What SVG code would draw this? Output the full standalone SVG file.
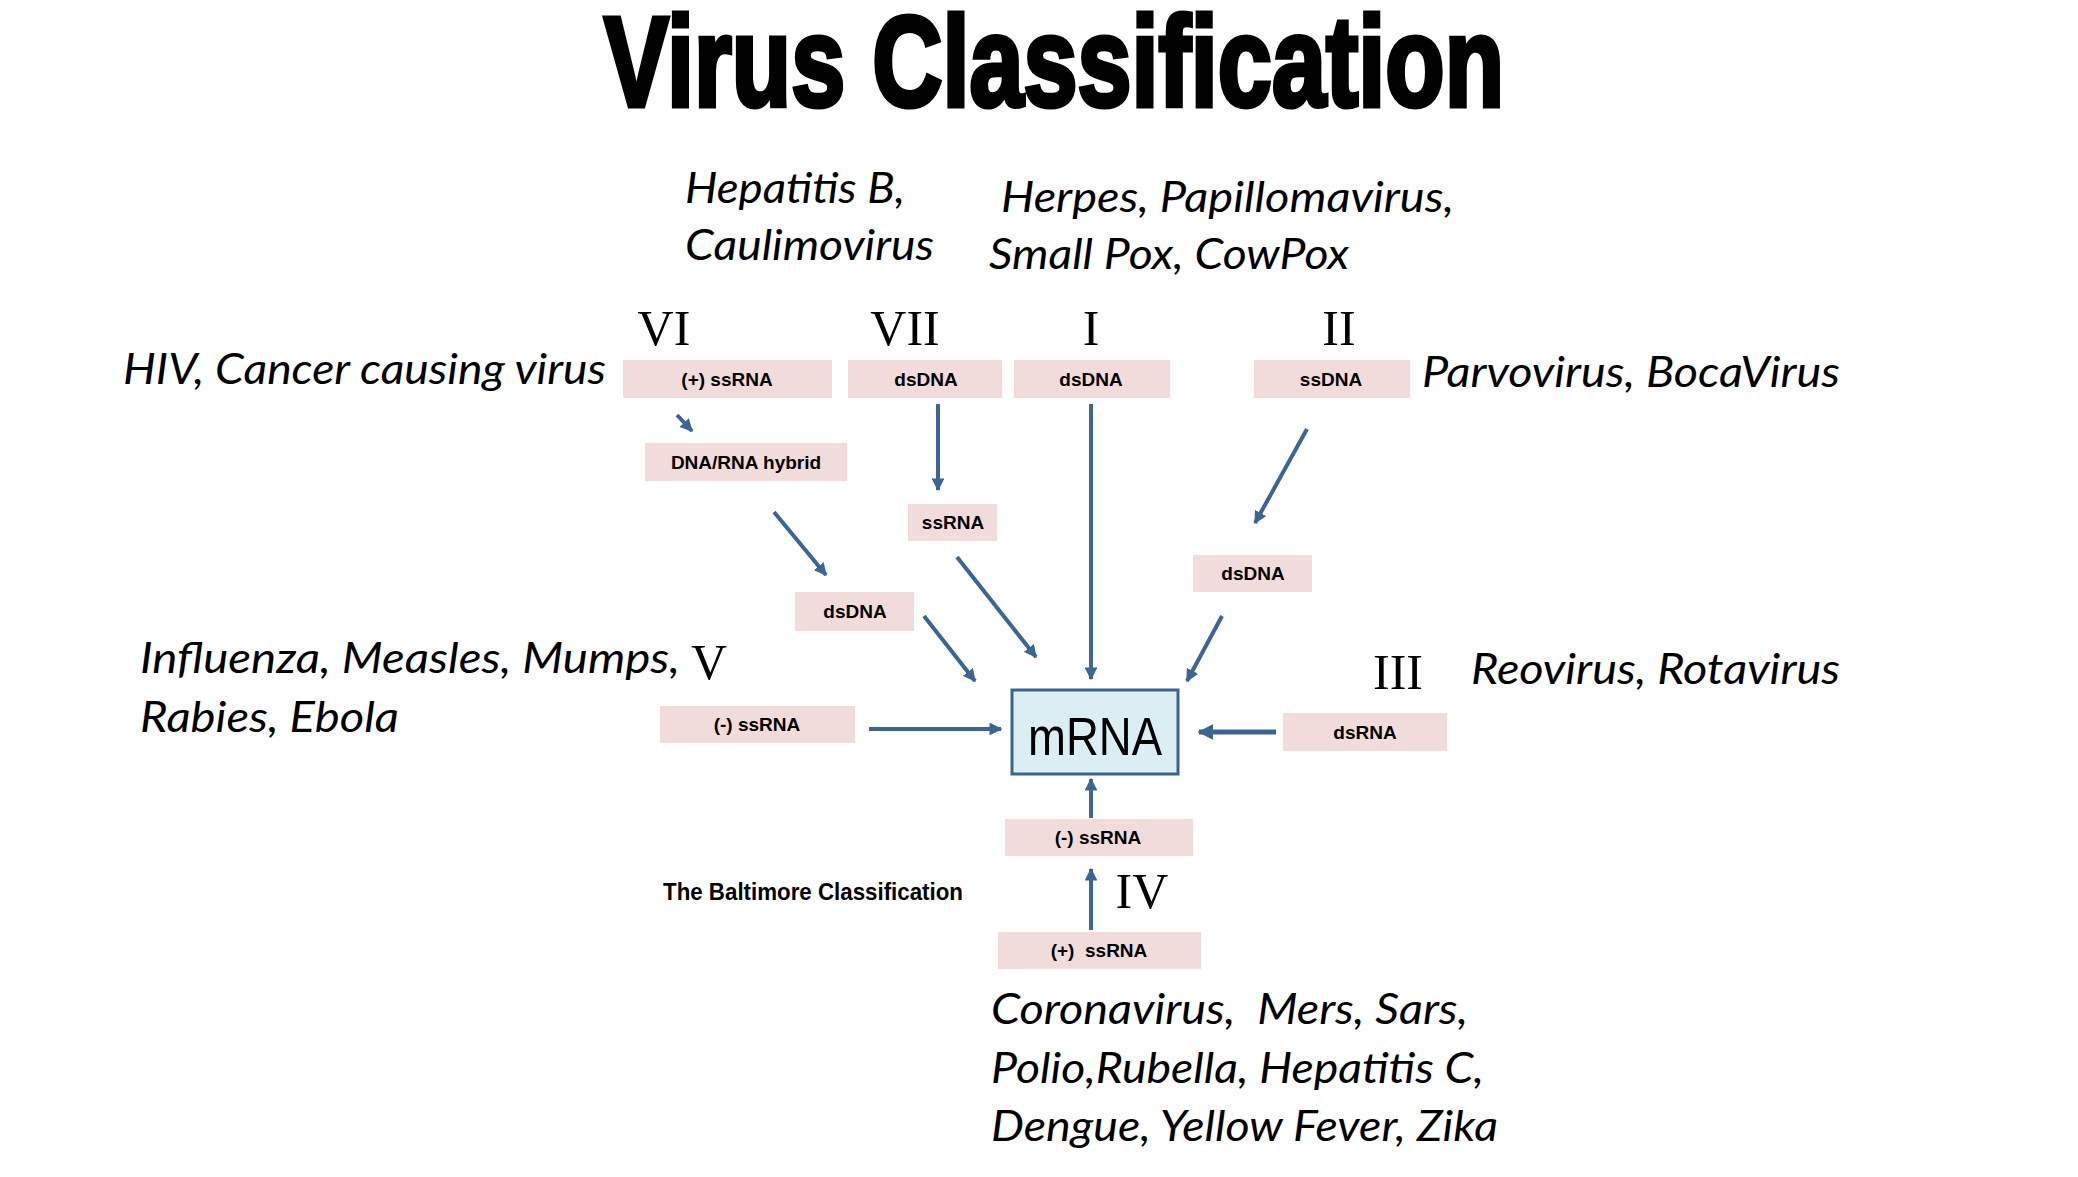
<svg xmlns="http://www.w3.org/2000/svg" width="2078" height="1177" viewBox="0 0 2078 1177">
<defs>
<marker id="ah" viewBox="0 0 10 10" refX="9" refY="5" markerWidth="3.2" markerHeight="3.2" orient="auto">
<path d="M0,0 L10,5 L0,10 z" fill="#3d6594"/>
</marker>
<style>
.box{fill:#f2dcdb}
.bt{font-family:"Liberation Sans",Arial,sans-serif;font-weight:bold;font-size:19px;fill:#000;text-anchor:middle}
.rn{font-family:"Liberation Serif","Times New Roman",serif;font-size:50px;fill:#000;text-anchor:middle}
.it{font-family:Lato,"Open Sans",sans-serif;font-style:italic;font-size:42px;fill:#000}
.arr{stroke:#3d6594;stroke-width:4;fill:none;marker-end:url(#ah)}
</style>
</defs>
<rect width="2078" height="1177" fill="#fff"/>
<text x="604" y="106" textLength="900" lengthAdjust="spacingAndGlyphs" style="font-family:'Liberation Sans Narrow','Liberation Sans',Arial,sans-serif;font-weight:bold;font-size:128px;fill:#000;stroke:#000;stroke-width:5">Virus Classification</text>

<g id="labels">
<text class="it" x="685" y="203" textLength="220" lengthAdjust="spacingAndGlyphs">Hepatitis B,</text>
<text class="it" x="685" y="260" textLength="249" lengthAdjust="spacingAndGlyphs">Caulimovirus</text>
<text class="it" x="1001" y="212" textLength="453" lengthAdjust="spacingAndGlyphs">Herpes, Papillomavirus,</text>
<text class="it" x="989" y="269" textLength="360" lengthAdjust="spacingAndGlyphs">Small Pox, CowPox</text>
<text class="it" x="123" y="384" textLength="483" lengthAdjust="spacingAndGlyphs">HIV, Cancer causing virus</text>
<text class="it" x="1422" y="387" textLength="418" lengthAdjust="spacingAndGlyphs">Parvovirus, BocaVirus</text>
<text class="it" x="1471" y="684" textLength="369" lengthAdjust="spacingAndGlyphs">Reovirus, Rotavirus</text>
<text class="it" x="140" y="673" textLength="540" lengthAdjust="spacingAndGlyphs">Influenza, Measles, Mumps,</text>
<text class="it" x="140" y="732" textLength="259" lengthAdjust="spacingAndGlyphs">Rabies, Ebola</text>
<text class="it" x="991" y="1024" textLength="477" lengthAdjust="spacingAndGlyphs" xml:space="preserve">Coronavirus,  Mers, Sars,</text>
<text class="it" x="991" y="1083" textLength="493" lengthAdjust="spacingAndGlyphs">Polio,Rubella, Hepatitis C,</text>
<text class="it" x="991" y="1141" textLength="507" lengthAdjust="spacingAndGlyphs">Dengue, Yellow Fever, Zika</text>
<text x="663" y="900" textLength="300" lengthAdjust="spacingAndGlyphs" style="font-family:'Liberation Sans',Arial,sans-serif;font-weight:bold;font-size:24px;fill:#000">The Baltimore Classification</text>
<text class="rn" x="664" y="345">VI</text>
<text class="rn" x="905" y="345">VII</text>
<text class="rn" x="1091" y="345">I</text>
<text class="rn" x="1339" y="345">II</text>
<text class="rn" x="1398" y="689">III</text>
<text class="rn" x="1142" y="908">IV</text>
<text class="rn" x="709" y="679">V</text>
</g>

<g id="connectors">
<line class="arr" x1="677" y1="415" x2="692" y2="431"/>
<line class="arr" x1="938" y1="404" x2="938" y2="490"/>
<line class="arr" x1="1091" y1="404" x2="1091" y2="679"/>
<line class="arr" x1="774" y1="512" x2="826" y2="575"/>
<line class="arr" x1="957" y1="557" x2="1036" y2="657"/>
<line class="arr" x1="924" y1="616" x2="975" y2="681"/>
<line class="arr" x1="1307" y1="429" x2="1255" y2="523"/>
<line class="arr" x1="1222" y1="616" x2="1187" y2="681"/>
<line class="arr" x1="869" y1="729" x2="1001" y2="729"/>
<line class="arr" x1="1276" y1="732" x2="1199" y2="732" style="stroke-width:5"/>
<line class="arr" x1="1091" y1="818" x2="1091" y2="779"/>
<line class="arr" x1="1091" y1="930" x2="1091" y2="869"/>
</g>

<g id="n-vi-ssrna"><rect class="box" x="623" y="360" width="209" height="38"/><text class="bt" x="727" y="386">(+) ssRNA</text></g>
<g id="n-vii-dsdna"><rect class="box" x="848" y="360" width="154" height="38"/><text class="bt" x="926" y="386">dsDNA</text></g>
<g id="n-i-dsdna"><rect class="box" x="1014" y="360" width="156" height="38"/><text class="bt" x="1091" y="386">dsDNA</text></g>
<g id="n-ii-ssdna"><rect class="box" x="1254" y="360" width="156" height="38"/><text class="bt" x="1331" y="386">ssDNA</text></g>
<g id="n-hybrid"><rect class="box" x="645" y="443" width="202" height="38"/><text class="bt" x="746" y="469">DNA/RNA hybrid</text></g>
<g id="n-vii-ssrna"><rect class="box" x="908" y="504" width="89" height="37"/><text class="bt" x="953" y="529">ssRNA</text></g>
<g id="n-vi-dsdna"><rect class="box" x="795" y="592" width="119" height="39"/><text class="bt" x="855" y="618">dsDNA</text></g>
<g id="n-ii-dsdna"><rect class="box" x="1193" y="555" width="119" height="37"/><text class="bt" x="1253" y="580">dsDNA</text></g>
<g id="n-mrna"><rect x="1012" y="690" width="166" height="84" fill="#daeef3" stroke="#3b6390" stroke-width="3"/><text x="1095" y="755" text-anchor="middle" textLength="134" lengthAdjust="spacingAndGlyphs" style="font-family:'Liberation Sans',Arial,sans-serif;font-size:54px;fill:#000">mRNA</text></g>
<g id="n-v-ssrna"><rect class="box" x="660" y="706" width="195" height="37"/><text class="bt" x="757" y="731">(-) ssRNA</text></g>
<g id="n-iii-dsrna"><rect class="box" x="1283" y="713" width="164" height="38"/><text class="bt" x="1365" y="739">dsRNA</text></g>
<g id="n-iv-mssrna"><rect class="box" x="1005" y="819" width="188" height="37"/><text class="bt" x="1098" y="844">(-) ssRNA</text></g>
<g id="n-iv-pssrna"><rect class="box" x="998" y="932" width="203" height="37"/><text class="bt" x="1099" y="957" xml:space="preserve">(+)  ssRNA</text></g>
</svg>
